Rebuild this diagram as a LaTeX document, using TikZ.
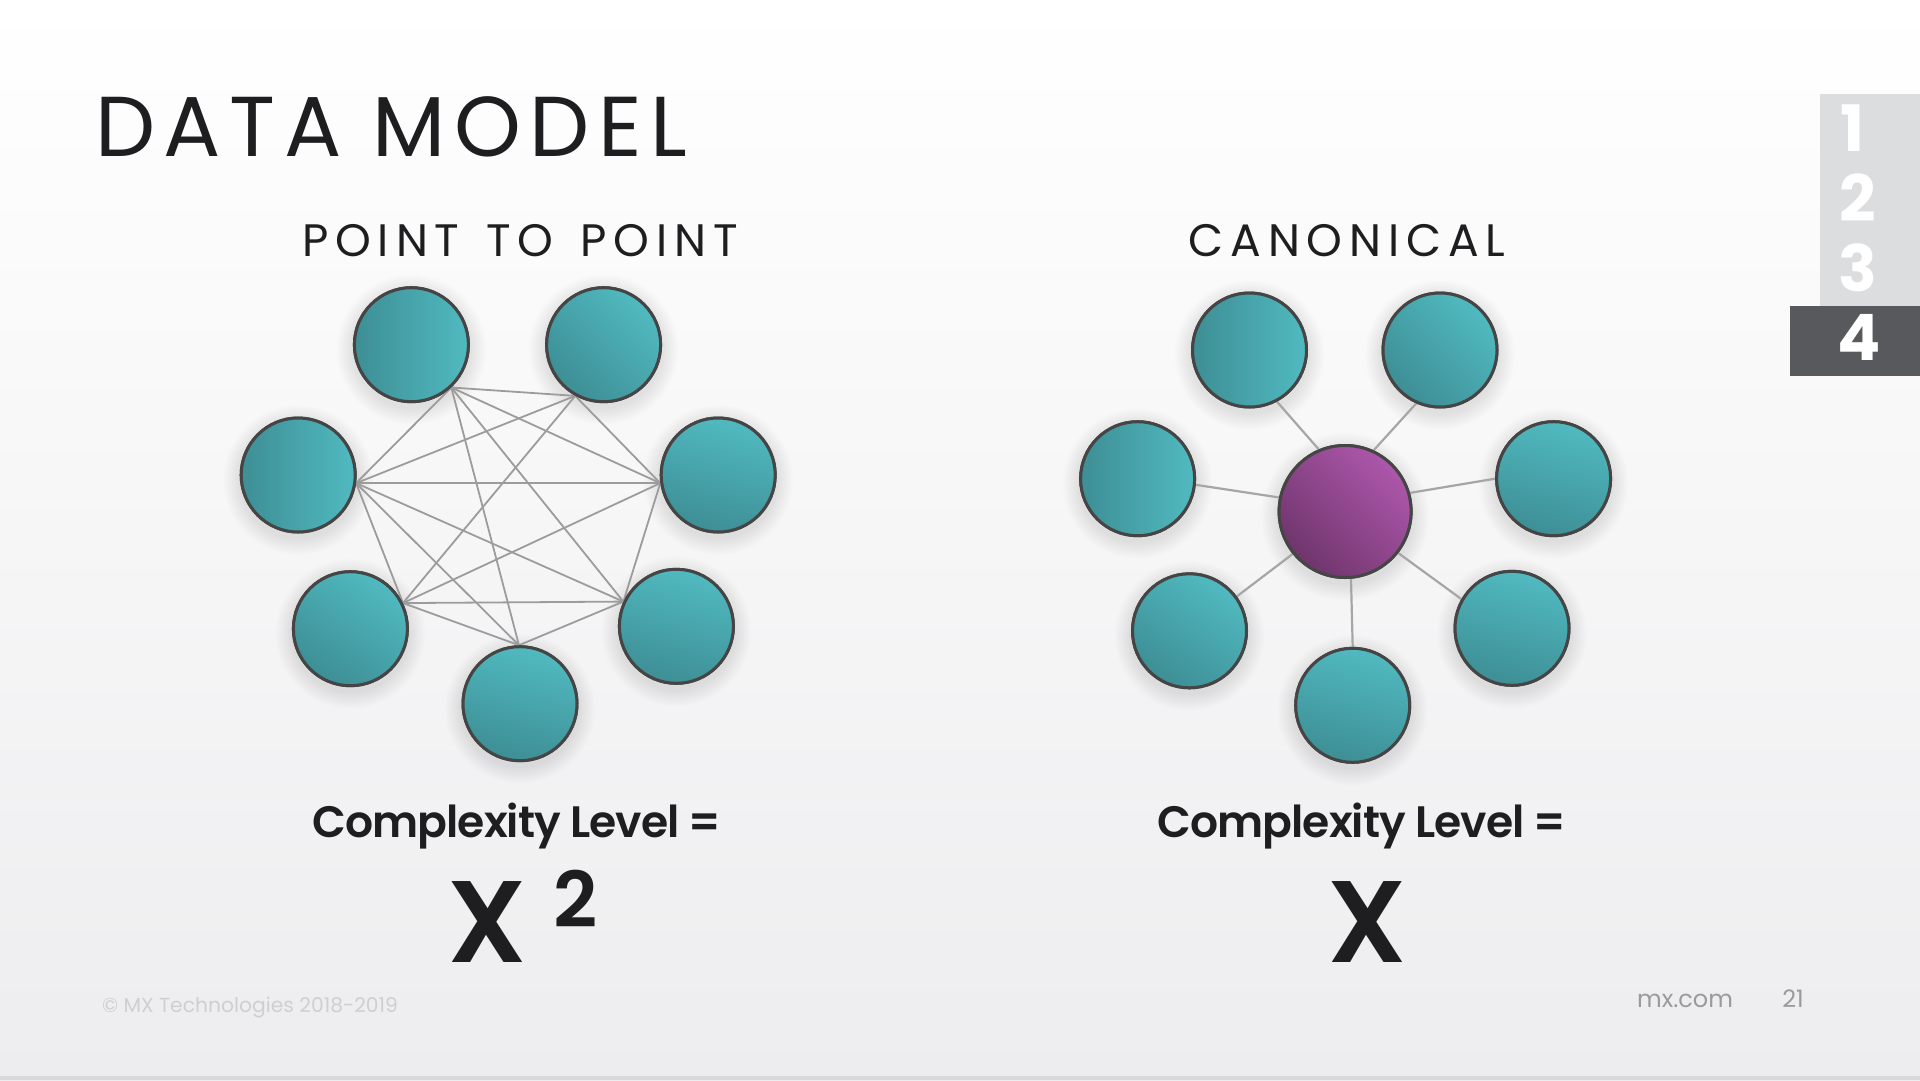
\documentclass[tikz,border=0pt]{standalone}
\usepackage{fontspec}
\setmainfont{Poppins}
\newfontfamily\titlef{Poppins}[LetterSpace=10]
\newfontfamily\subf{Poppins}[LetterSpace=15]
\IfFontExistsTF{Poppins SemiBold}{\newfontfamily\semif{Poppins SemiBold}[LetterSpace=-2.2]}{\newfontfamily\semif{Poppins}[FakeBold=1.5,LetterSpace=-2.2]}
\IfFontExistsTF{Poppins SemiBold}{\newfontfamily\bigf{Poppins SemiBold}}{\newfontfamily\bigf{Poppins}[FakeBold=1.5]}
\definecolor{tealL}{HTML}{50BAC0}
\definecolor{tealD}{HTML}{3E8E95}
\definecolor{purL}{HTML}{AD57AB}
\definecolor{purD}{HTML}{6F356C}
\definecolor{rim}{HTML}{454545}
\definecolor{edgegray}{HTML}{9C9C9C}
\definecolor{ink}{HTML}{1E1E20}
\definecolor{bgbot}{HTML}{EDEDEF}
\definecolor{bline}{HTML}{D9D9D9}
\definecolor{tabL}{HTML}{DCDDDF}
\definecolor{tabD}{HTML}{58595D}
\definecolor{foot}{HTML}{CFCFD1}
\definecolor{foottwo}{HTML}{9A9A9C}
\tikzset{
  tealnode/.style={circle, draw=rim, line width=3pt, minimum size=114pt, inner sep=0pt,
    top color=tealL, bottom color=tealD, shading angle=#1},
  tealnode/.default=-45,
  hubnode/.style={circle, draw=rim, line width=3pt, minimum size=132pt, inner sep=0pt,
    top color=purL, bottom color=purD, shading angle=-45},
  link/.style={draw=edgegray, line width=1.8pt},
  spoke/.style={draw=edgegray!90, line width=2.2pt},
  txt/.style={inner sep=0pt, text=ink},
  tabnum/.style={inner sep=0pt, text=white, anchor=base, font=\bfseries\fontsize{64}{66}\selectfont},
}
\newcommand\softshade[2]{%
  \foreach \k in {1,...,12}{\fill[black, opacity=0.008] ([yshift=-5pt]#1) circle[radius=#2+\k*1.4pt];}}
\begin{document}
\begin{tikzpicture}[x=1pt,y=-1pt]
\useasboundingbox (0,0) rectangle (1920,1080);
\shade[top color=white, bottom color=bgbot] (0,0) rectangle (1920,1080);
\fill[bline] (0,1076) rectangle (1920,1080);

% page tabs
\fill[tabL] (1820,94) rectangle (1920,306);
\fill[tabD] (1790,306) rectangle (1920,376);
\node[tabnum] (n1) at (1853,151.7) {1};
\node[tabnum] (n2) at (1858,221.7) {2};
\node[tabnum] (n3) at (1858,291.7) {3};
\node[tabnum] (n4) at (1859,360) {4};

% titles
\node[txt, anchor=base west, font=\titlef\fontsize{85}{90}\selectfont] (title) at (95,156.7) {DATA MODEL};
\node[txt, anchor=base, font=\subf\fontsize{45.5}{50}\selectfont] (sub1) at (520,256.7) {POINT\hspace{8pt} TO\hspace{8pt} POINT};
\node[txt, anchor=base, font=\subf\fontsize{45.5}{50}\selectfont] (sub2) at (1347,256.7) {CANONICAL};

% positions
\coordinate (cTL) at (411.4,344.7);
\coordinate (cTR) at (603.6,344.7);
\coordinate (cL)  at (298.2,475);
\coordinate (cR)  at (718.2,475);
\coordinate (cBL) at (350.4,628.7);
\coordinate (cBR) at (676.4,626.3);
\coordinate (cB)  at (520,703.7);
\coordinate (dTL) at (1249.5,350);
\coordinate (dTR) at (1440,350);
\coordinate (dL)  at (1137.6,478.7);
\coordinate (dR)  at (1553.6,478.7);
\coordinate (dBL) at (1189.5,630.8);
\coordinate (dBR) at (1512,628.3);
\coordinate (dB)  at (1352.7,705.3);
\coordinate (dH)  at (1345.1,511.5);

% soft shadows
\foreach \p in {cTL,cTR,cL,cR,cBL,cBR,cB,dTL,dTR,dL,dR,dBL,dBR,dB}{\softshade{\p}{58pt}}
\softshade{dH}{67pt}

% left graph nodes (for anchors)
\path (cTL) node[tealnode=-90] (aTL) {};
\path (cTR) node[tealnode=-45] (aTR) {};
\path (cL)  node[tealnode=-90] (aL) {};
\path (cR)  node[tealnode=-15] (aR) {};
\path (cBL) node[tealnode=-35] (aBL) {};
\path (cBR) node[tealnode=-15] (aBR) {};
\path (cB)  node[tealnode=-15] (aB) {};

\coordinate (eTL) at (aTL.-47.3);
\coordinate (eTR) at (aTR.241.2);
\coordinate (eL)  at (aL.-8.1);
\coordinate (eR)  at (aR.188.1);
\coordinate (eBL) at (aBL.26.3);
\coordinate (eBR) at (aBR.155.8);
\coordinate (eB)  at (aB.91.7);

\draw[link] (eTL) -- (eTR);
\draw[link] (eTL) -- (eL);
\draw[link] (eTL) -- (eR);
\draw[link] (eTL) -- (eBR);
\draw[link] (eTL) -- (eB);
\draw[link] (eTR) -- (eL);
\draw[link] (eTR) -- (eR);
\draw[link] (eTR) -- (eBL);
\draw[link] (eL) -- (eR);
\draw[link] (eL) -- (eBR);
\draw[link] (eL) -- (eB);
\draw[link] (eL) -- (eBL);
\draw[link] (eR) -- (eBL);
\draw[link] (eR) -- (eBR);
\draw[link] (eBL) -- (eBR);
\draw[link] (eBL) -- (eB);
\draw[link] (eBR) -- (eB);

% right graph
\path (dTL) node[tealnode=-90] (bTL) {};
\path (dTR) node[tealnode=-45] (bTR) {};
\path (dL)  node[tealnode=-90] (bL) {};
\path (dR)  node[tealnode=-15] (bR) {};
\path (dBL) node[tealnode=-35] (bBL) {};
\path (dBR) node[tealnode=-15] (bBR) {};
\path (dB)  node[tealnode=-15] (bB) {};
\path (dH)  node[hubnode] (hub) {};

\draw[spoke] (bTL.-62.3) -- (hub.113.1);
\draw[spoke] (bTR.-114.9) -- (hub.65.8);
\draw[spoke] (bL.-6.2) -- (hub.168.8);
\draw[spoke] (bR.180) -- (hub.16);
\draw[spoke] (bBL.36.7) -- (hub.219.5);
\draw[spoke] (bBR.150.9) -- (hub.-38.2);
\draw[spoke] (bB.90) -- (hub.-85.7);

% redraw circles above the lines
\path (cTL) node[tealnode=-90] {};
\path (cTR) node[tealnode=-45] {};
\path (cL)  node[tealnode=-90] {};
\path (cR)  node[tealnode=-15] {};
\path (cBL) node[tealnode=-35] {};
\path (cBR) node[tealnode=-15] {};
\path (cB)  node[tealnode=-15] {};
\path (dTL) node[tealnode=-90] {};
\path (dTR) node[tealnode=-45] {};
\path (dL)  node[tealnode=-90] {};
\path (dR)  node[tealnode=-15] {};
\path (dBL) node[tealnode=-35] {};
\path (dBR) node[tealnode=-15] {};
\path (dB)  node[tealnode=-15] {};
\path (dH)  node[hubnode] {};

% complexity labels
\node[txt, anchor=base, font=\semif\fontsize{44}{50}\selectfont] (cx1) at (517,837.3) {Complexity Level =};
\node[txt, anchor=base, font=\semif\fontsize{44}{50}\selectfont] (cx2) at (1362,837.3) {Complexity Level =};
\node[txt, anchor=base, font=\bigf\fontsize{116}{120}\selectfont] (x1) at (487,962.7) {X};
\node[txt, anchor=base west, font=\bigf\fontsize{77}{80}\selectfont] (sq) at (553,927.3) {2};
\node[txt, anchor=base, font=\bigf\fontsize{116}{120}\selectfont] (x2) at (1367,962.7) {X};

% footer
\node[inner sep=0pt, anchor=base west, text=foot, font=\fontsize{20.3}{24}\selectfont] (copy) at (102,1012.3) {© MX Technologies 2018-2019};
\node[inner sep=0pt, anchor=base, text=foottwo, font=\fontsize{24}{26}\selectfont] (web) at (1685,1007.3) {mx.com};
\node[inner sep=0pt, anchor=base, text=foottwo, font=\fontsize{24}{26}\selectfont] (pg) at (1793,1007.3) {21};
\end{tikzpicture}
\end{document}
